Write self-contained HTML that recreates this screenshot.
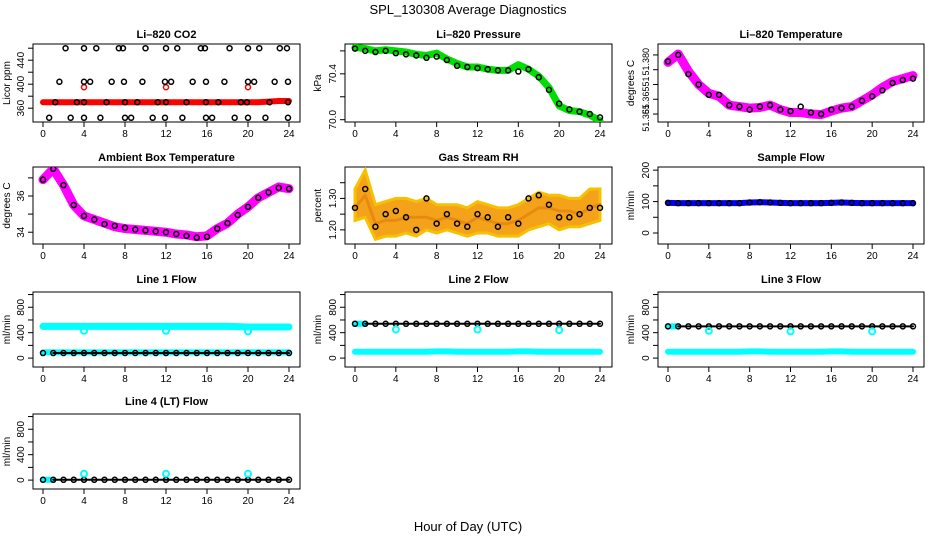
<!DOCTYPE html>
<html><head><meta charset="utf-8">
<style>
html,body{margin:0;padding:0;background:#fff;}
svg{display:block;font-family:"Liberation Sans",sans-serif;}
</style></head>
<body>
<svg id="chart" width="936" height="540" viewBox="0 0 936 540">
<text x="468" y="14" text-anchor="middle" font-size="13">SPL_130308  Average Diagnostics</text>
<text x="468" y="531" text-anchor="middle" font-size="13">Hour of Day (UTC)</text>
</svg>
<script>
const hours=[0,1,2,3,4,5,6,7,8,9,10,11,12,13,14,15,16,17,18,19,20,21,22,23,24];
const xTicks=[0,4,8,12,16,20,24];
// CO2
const co2Red=[370,370,370,370,370,370,370,370,370,370,370,370,370,370,370,370,370,370,370,370,370,370,371,372,372];
const co2RedHrs=[4,12,20];
const co2RedOut=[395,395,395];
const co2BlackHrs=[2.2,4,5.2,7.4,7.8,10,12,13.1,15.4,15.8,18.2,20,21.1,23.1,23.8,1.6,4,4.6,6.7,7.9,9.7,11.9,12.5,14.6,15.9,17.7,20,20.6,22.6,23.9,1.2,3.3,4,6.2,8,9.2,11.2,12,14,15.9,17.1,19.3,19.9,22.1,23.9,0.6,2.7,4,5.6,8,8.6,10.7,11.9,13.6,15.9,16.5,18.7,20,21.7,23.9];
const co2Black=[460,460,460,460,460,460,460,460,460,460,460,460,460,460,460,404,404,404,404,404,404,404,404,404,404,404,404,404,404,404,370,370,370,370,370,370,370,370,370,370,370,370,370,370,370,344,344,344,344,344,344,344,344,344,344,344,344,344,344,344];
// Pressure
const pressGreen=[70.63,70.62,70.60,70.61,70.60,70.59,70.57,70.56,70.58,70.53,70.49,70.46,70.46,70.44,70.43,70.43,70.48,70.44,70.38,70.28,70.12,70.08,70.07,70.04,69.99];
const pressBlack=[70.62,70.60,70.59,70.60,70.58,70.57,70.56,70.54,70.55,70.52,70.47,70.46,70.45,70.44,70.43,70.43,70.42,70.44,70.37,70.26,70.14,70.09,70.07,70.05,70.02];
// Li-820 temperature
const tempPink=[51.3775,51.3803,51.3745,51.3700,51.3670,51.3660,51.3630,51.3625,51.3620,51.3622,51.3630,51.3615,51.3605,51.3605,51.3600,51.3598,51.3610,51.3620,51.3625,51.3645,51.3665,51.3690,51.3710,51.3720,51.3730];
const tempBlack=[51.3778,51.3800,51.3735,51.3700,51.3665,51.3665,51.3630,51.3625,51.3615,51.3625,51.3630,51.3615,51.3610,51.3625,51.3605,51.3600,51.3615,51.3620,51.3625,51.3645,51.3660,51.3680,51.3705,51.3715,51.3720];
const tempLabelVals=[51.3777,51.3710,51.3646,51.3587];
const tempLabels=['51.380','51','51.365','51.365'];
// Ambient box temperature
const ambPink=[36.9,37.5,36.6,35.5,34.9,34.7,34.5,34.3,34.2,34.15,34.1,34.05,34.0,33.9,33.85,33.75,33.8,34.2,34.5,35.0,35.4,35.9,36.2,36.5,36.4];
const ambBlack=[36.9,37.5,36.6,35.5,34.9,34.7,34.45,34.35,34.25,34.15,34.1,34.05,34.0,33.9,33.8,33.7,33.75,34.2,34.5,34.95,35.4,35.9,36.2,36.45,36.4];
// Gas stream RH
const rhMid=[1.27,1.31,1.22,1.23,1.23,1.24,1.24,1.24,1.23,1.24,1.23,1.22,1.24,1.23,1.22,1.22,1.23,1.25,1.27,1.27,1.26,1.26,1.25,1.27,1.28];
const rhLo=[1.23,1.24,1.17,1.18,1.18,1.19,1.18,1.20,1.19,1.20,1.19,1.18,1.19,1.19,1.18,1.18,1.18,1.20,1.21,1.22,1.20,1.21,1.21,1.22,1.23];
const rhHi=[1.33,1.39,1.28,1.29,1.30,1.30,1.29,1.30,1.28,1.28,1.28,1.27,1.29,1.28,1.27,1.27,1.28,1.30,1.32,1.31,1.31,1.30,1.30,1.33,1.33];
const rhBlack=[1.27,1.33,1.21,1.25,1.26,1.24,1.20,1.30,1.22,1.25,1.22,1.21,1.25,1.24,1.21,1.24,1.22,1.30,1.31,1.28,1.24,1.24,1.25,1.27,1.27];
// Sample flow
const sampleBlue=[96,95,95,95,95,95,95,95,97,98,97,96,95,95,95,95,96,97,96,95,95,95,95,95,95];
// Line flows
const line1Cyan=[500,500,500,500,500,500,500,500,500,500,500,500,500,500,500,500,500,500,500,495,490,490,490,490,490];
const line1Low=[90,90,90,90,90,90,90,90,90,90,90,90,90,90,90,90,90,90,90,90,90,90,90,90,90];
const line1Black=[80,80,80,80,80,80,80,80,80,80,80,80,80,80,80,80,80,80,80,80,80,80,80,80,80];
const line2Black=[540,540,540,540,540,540,540,540,540,540,540,540,540,540,540,540,540,540,540,540,540,540,540,540,540];
const line2Cyan=[100,100,100,100,100,100,100,100,105,105,100,100,100,100,100,100,105,105,100,100,100,100,100,100,100];
const line3Black=[500,500,500,500,500,500,500,500,500,500,500,500,500,500,500,500,500,500,500,500,500,500,500,500,500];
const line3Cyan=[100,100,100,100,100,100,100,100,105,105,100,100,100,100,100,100,105,105,100,100,100,100,100,100,100];
const line4Black=[5,5,5,5,5,5,5,5,5,5,5,5,5,5,5,5,5,5,5,5,5,5,5,5,5];
const dipHrs=[4,12,20];
const line1Dip=[430,430,420];
const line2Dip=[450,450,440];
const line3Dip=[430,420,420];
const line4Dip=[100,100,100];

const NS='http://www.w3.org/2000/svg';
const svg=document.getElementById('chart');
function mk(tag,attrs,parent){const e=document.createElementNS(NS,tag);for(const k in attrs)e.setAttribute(k,attrs[k]);(parent||svg).appendChild(e);return e;}

const cols=[{bl:33,br:300,x0:43,x24:289,lab:10,tl:24},{bl:345,br:612,x0:355,x24:600,lab:321,tl:336},{bl:658,br:924,x0:668,x24:913,lab:634,tl:649}];
const rows=[{t:44,b:122,title:38},{t:167,b:244,title:161},{t:292,b:367,title:283},{t:414,b:489,title:405}];

function panel(name,title,ci,ri,ymin,ymax,ticks,labels,ylab,labVals,labSize){
  const c=cols[ci],r=rows[ri];
  const g=mk('g',{});
  
  
  const x=h=>c.x0+(c.x24-c.x0)*h/24;
  const y=v=>r.b-(v-ymin)/(ymax-ymin)*(r.b-r.t);
  const t=mk('text',{x:(c.bl+c.br)/2,y:r.title,'text-anchor':'middle','font-size':'11','font-weight':'bold'},g);
  t.textContent=title;
  
  
  const box=mk('rect',{x:c.bl,y:r.t,width:c.br-c.bl,height:r.b-r.t,fill:'none',stroke:'#000','stroke-width':1},g);
  
  
  xTicks.forEach(h=>{
    mk('line',{x1:x(h),x2:x(h),y1:r.b,y2:r.b+5,stroke:'#000'},g);
    const tx=mk('text',{x:x(h),y:r.b+15,'text-anchor':'middle','font-size':'10'},g);
    tx.textContent=h;
    
    
  });
  ticks.forEach(v=>{mk('line',{x1:c.bl-5,x2:c.bl,y1:y(v),y2:y(v),stroke:'#000'},g);});
  const lv=labVals||ticks;
  lv.forEach((v,i)=>{
    if(labels[i]!==''){
      const ty=mk('text',{x:c.tl,y:y(v),'text-anchor':'middle','font-size':labSize||'10',transform:`rotate(-90 ${c.tl} ${y(v)})`},g);
      ty.textContent=labels[i];
      
      
    }
  });
  const yl=mk('text',{x:c.lab,y:(r.t+r.b)/2,'text-anchor':'middle','font-size':'10',transform:`rotate(-90 ${c.lab} ${(r.t+r.b)/2})`},g);
  yl.textContent=ylab;
  
  
  const clip='clip'+ci+ri;
  const cp=mk('clipPath',{id:clip},g);mk('rect',{x:c.bl,y:r.t,width:c.br-c.bl,height:r.b-r.t},cp);
  const d=mk('g',{'clip-path':`url(#${clip})`},g);
  return {x,y,g:d};
}
function band(p,hrs,vals,color,w,name){
  const pl=mk('polyline',{points:hrs.map((h,i)=>p.x(h)+','+p.y(vals[i])).join(' '),fill:'none',stroke:color,'stroke-width':w,'stroke-linejoin':'round','stroke-linecap':'round'},p.g);
  
  
}
function pts(p,hrs,vals,color,r,sw,name){
  hrs.forEach((h,i)=>{
    const c=mk('circle',{cx:p.x(h),cy:p.y(vals[i]),r:r,fill:'none',stroke:color,'stroke-width':sw},p.g);
    
    
  });
}

// CO2
let p=panel('co2','Li\u2013820 CO2',0,0,337,467,[360,380,400,420,440,460],['360','','400','','440',''],'Licor ppm');
band(p,hours,co2Red,'#f00',6,'co2-red-series');
pts(p,co2RedHrs,co2RedOut,'#f00',2.5,1.5,'co2-red-point');
pts(p,co2BlackHrs,co2Black,'#000',2.5,1.5,'co2-black-point');
// Pressure
p=panel('pressure','Li\u2013820 Pressure',1,0,69.98,70.66,[70.0,70.2,70.4,70.6],['70.0','','70.4',''],'kPa');
band(p,hours,pressGreen,'#0d0',7,'pressure-green-series');
pts(p,hours,pressBlack,'#000',2.5,1.5,'pressure-black-point');
// Li-820 temperature
p=panel('li820-temp','Li\u2013820 Temperature',2,0,51.3573,51.3837,[51.380,51.375,51.370,51.365,51.360],tempLabels,'degrees C',tempLabelVals,'9');
band(p,hours,tempPink,'#f0f',9,'temp-magenta-series');
pts(p,hours,tempBlack,'#000',2.5,1.5,'temp-black-point');
// Ambient
p=panel('ambient-temp','Ambient Box Temperature',0,1,33.35,37.6,[34,35,36,37],['34','','36',''],'degrees C');
band(p,hours,ambPink,'#f0f',9,'ambient-magenta-series');
pts(p,hours,ambBlack,'#000',2.5,1.5,'ambient-black-point');
// RH
p=panel('rh','Gas Stream RH',1,1,1.155,1.40,[1.20,1.25,1.30,1.35],['1.20','','1.30',''],'percent');
{const poly=mk('polygon',{points:hours.map((h,i)=>p.x(h)+','+p.y(rhHi[i])).concat(hours.slice().reverse().map((h,j)=>p.x(h)+','+p.y(rhLo[24-j]))).join(' '),fill:'#f4a21a',stroke:'#f7c000','stroke-width':3},p.g);

}
band(p,hours,rhMid,'#e88a10',3,'rh-orange-center');
pts(p,hours,rhBlack,'#000',2.5,1.5,'rh-black-point');
// Sample flow
p=panel('sample-flow','Sample Flow',2,1,-35,210,[0,50,100,150,200],['0','','100','','200'],'ml/min');
band(p,hours,sampleBlue,'#00f',6,'sample-blue-series');
pts(p,hours,sampleBlue,'#000',2.5,1.5,'sample-black-point');
// Line flows
const ft=[0,200,400,600,800,1000],fl=['0','','400','','800',''];
p=panel('line1','Line 1 Flow',0,2,-140,1040,ft,fl,'ml/min');
band(p,hours,line1Cyan,'#0ff',7,'line1-cyan-series');
band(p,hours,line1Low,'#0ff',6,'line1-cyan-low-series');
band(p,hours.slice(1),line1Black.slice(1),'#000',2,'line1-black-series');
pts(p,hours,line1Black,'#000',2.5,1.5,'line1-black-point');
pts(p,dipHrs,line1Dip,'#0ff',3,2,'line1-cyan-dip');
p=panel('line2','Line 2 Flow',1,2,-140,1040,ft,fl,'ml/min');
band(p,hours,line2Cyan,'#0ff',6,'line2-cyan-series');
band(p,[0,1],line2Black.slice(0,2),'#0ff',6,'line2-cyan-high');
band(p,hours.slice(1),line2Black.slice(1),'#000',2,'line2-black-series');
pts(p,hours,line2Black,'#000',2.5,1.5,'line2-black-point');
pts(p,dipHrs,line2Dip,'#0ff',3,2,'line2-cyan-dip');
p=panel('line3','Line 3 Flow',2,2,-140,1040,ft,fl,'ml/min');
band(p,hours,line3Cyan,'#0ff',6,'line3-cyan-series');
band(p,[0,1],line3Black.slice(0,2),'#0ff',6,'line3-cyan-high');
band(p,hours.slice(1),line3Black.slice(1),'#000',2,'line3-black-series');
pts(p,hours,line3Black,'#000',2.5,1.5,'line3-black-point');
pts(p,dipHrs,line3Dip,'#0ff',3,2,'line3-cyan-dip');
p=panel('line4','Line 4 (LT) Flow',0,3,-140,1040,ft,fl,'ml/min');
band(p,[0,1],line4Black.slice(0,2),'#0ff',6,'line4-cyan-series');
band(p,hours.slice(1),line4Black.slice(1),'#000',2,'line4-black-series');
pts(p,hours,line4Black,'#000',2.5,1.5,'line4-black-point');
pts(p,dipHrs,line4Dip,'#0ff',3,2,'line4-cyan-spike');
</script>
</body></html>
